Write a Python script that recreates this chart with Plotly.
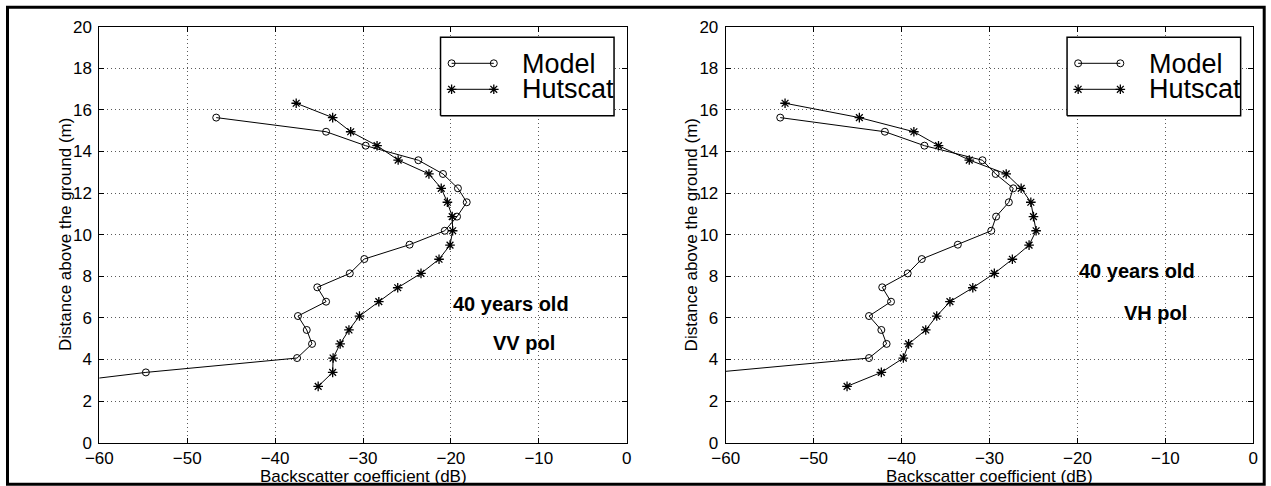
import plotly.graph_objects as go

# ---------------- data ----------------
hut_heights = [16.32, 15.63, 14.95, 14.28, 13.59, 12.92, 12.23, 11.56, 10.87, 10.19,
               9.50, 8.82, 8.14, 7.45, 6.78, 6.09, 5.42, 4.75, 4.07, 3.38, 2.71]
model_heights = [15.63, 14.95, 14.28, 13.58, 12.92, 12.23, 11.56, 10.87, 10.19, 9.52,
                 8.83, 8.14, 7.47, 6.78, 6.09, 5.42, 4.75, 4.07, 3.38, 2.70]

vv_model = [-46.7, -34.2, -29.7, -23.7, -20.9, -19.2, -18.2, -19.3, -20.7, -24.7,
            -29.85, -31.5, -35.2, -34.2, -37.4, -36.4, -35.8, -37.5, -54.7, -68.0]
vv_hut = [-37.6, -33.45, -31.4, -28.4, -26.0, -22.5, -21.1, -20.4, -19.85, -19.8,
          -20.1, -21.35, -23.4, -26.05, -28.2, -30.4, -31.6, -32.6, -33.4, -33.45, -35.1]

vh_model = [-53.8, -41.9, -37.4, -30.8, -29.3, -27.3, -27.8, -29.25, -29.8, -33.6,
            -37.7, -39.3, -42.2, -41.2, -43.7, -42.3, -41.7, -43.7, -61.3]
vh_hut = [-53.25, -44.8, -38.6, -35.8, -32.3, -28.1, -26.4, -25.3, -25.0, -24.7,
          -25.5, -27.4, -29.45, -31.9, -34.5, -36.0, -37.25, -39.2, -39.8, -42.3, -46.2]

x_ticks = [-60, -50, -40, -30, -20, -10, 0]
x_tick_labels = ["\u221260", "\u221250", "\u221240", "\u221230", "\u221220", "\u221210", "0"]
y_ticks = [0, 2, 4, 6, 8, 10, 12, 14, 16, 18, 20]
y_tick_labels = [str(v) for v in y_ticks]

series_names = ["Model", "Hutscat"]
panel_notes = [("40 years old", "VV pol"), ("40 years old", "VH pol")]
x_title = "Backscatter coefficient (dB)"
y_title = "Distance above the ground (m)"

# ---------------- styling ----------------
W, H = 1271, 486
FONT = "Liberation Sans, Arial, Helvetica, sans-serif"
BLACK = "#000000"
GRIDC = "#5a5a5a"
SYMBOLS = {"Model": ("circle-open", 7, 1), "Hutscat": ("asterisk-open", 8, 1.3)}

def px_x(p):
    return p / W

def px_y(p):
    return 1 - p / H

left_dom = [px_x(99.3), px_x(626.7)]
right_dom = [px_x(725.7), px_x(1253.3)]
y_dom = [px_y(442.7), px_y(26.7)]

fig = go.Figure()

def add_series(xs, ys, xa, ya, name):
    sym, size, lw = SYMBOLS[name]
    fig.add_trace(go.Scatter(
        x=xs, y=ys, mode="lines+markers", name=name, showlegend=False,
        xaxis=xa, yaxis=ya,
        line=dict(color=BLACK, width=1),
        marker=dict(symbol=sym, size=size, color=BLACK, line=dict(color=BLACK, width=lw)),
    ))

add_series(vv_model, model_heights[:len(vv_model)], "x", "y", "Model")
add_series(vv_hut, hut_heights, "x", "y", "Hutscat")
add_series(vh_model, model_heights[:len(vh_model)], "x2", "y2", "Model")
add_series(vh_hut, hut_heights, "x2", "y2", "Hutscat")

# legend box + samples on overlay axes (domain fractions)
box_x = [0.647, 0.976, 0.976, 0.647, 0.647]
box_y = [0.786, 0.786, 0.9745, 0.9745, 0.786]
leg_x = [0.668, 0.748]
leg_rows = [0.912, 0.8495]
for xa, ya in (("x3", "y3"), ("x4", "y4")):
    fig.add_trace(go.Scatter(
        x=box_x, y=box_y, mode="lines", fill="toself", fillcolor="white",
        line=dict(color=BLACK, width=1.5), showlegend=False, hoverinfo="skip",
        xaxis=xa, yaxis=ya, cliponaxis=False,
    ))
    for yy, nm in zip(leg_rows, series_names):
        sym, size, lw = SYMBOLS[nm]
        fig.add_trace(go.Scatter(
            x=leg_x, y=[yy, yy], mode="lines+markers", showlegend=False,
            xaxis=xa, yaxis=ya, cliponaxis=False, hoverinfo="skip",
            line=dict(color=BLACK, width=1),
            marker=dict(symbol=sym, size=size, color=BLACK, line=dict(color=BLACK, width=lw)),
        ))

axis_common = dict(
    range=[-60, 0], tickmode="array", tickvals=x_ticks, ticktext=x_tick_labels,
    showgrid=True, gridcolor=GRIDC, gridwidth=1, griddash="1px,3px",
    zeroline=False, showline=True, linecolor=BLACK, linewidth=1, mirror="ticks",
    ticks="inside", ticklen=5, tickwidth=1, tickcolor=BLACK,
    tickfont=dict(family=FONT, size=17, color=BLACK), automargin=False,
    ticklabelstandoff=0,
)
yaxis_common = dict(
    range=[0, 20], tickmode="array", tickvals=y_ticks, ticktext=y_tick_labels,
    showgrid=True, gridcolor=GRIDC, gridwidth=1, griddash="1px,3px",
    zeroline=False, showline=True, linecolor=BLACK, linewidth=1, mirror="ticks",
    ticks="inside", ticklen=5, tickwidth=1, tickcolor=BLACK,
    tickfont=dict(family=FONT, size=17, color=BLACK), automargin=False,
    ticklabelstandoff=3, domain=y_dom,
)
hidden = dict(range=[0, 1], visible=False, showgrid=False, zeroline=False, fixedrange=True)

fig.update_layout(
    width=W, height=H, margin=dict(l=0, r=0, t=0, b=0),
    paper_bgcolor="white", plot_bgcolor="white", showlegend=False,
    font=dict(family=FONT, color=BLACK),
    xaxis=dict(domain=left_dom, anchor="y", **axis_common),
    yaxis=dict(anchor="x", **yaxis_common),
    xaxis2=dict(domain=right_dom, anchor="y2", **axis_common),
    yaxis2=dict(anchor="x2", **yaxis_common),
    xaxis3=dict(overlaying="x", anchor="y3", **hidden),
    yaxis3=dict(overlaying="y", anchor="x3", **hidden),
    xaxis4=dict(overlaying="x2", anchor="y4", **hidden),
    yaxis4=dict(overlaying="y2", anchor="x4", **hidden),
)

shapes = []
annotations = []
for xref, yref in (("x", "y"), ("x2", "y2")):
    for nm, yy in zip(series_names, [0.911, 0.850]):
        annotations.append(dict(text=nm, xref=f"{xref} domain", yref=f"{yref} domain",
                                x=0.7977, y=yy, xanchor="left", yanchor="middle",
                                showarrow=False, font=dict(family=FONT, size=27, color=BLACK)))

# panel notes
note_pos = [((-20.0, 6.67), (-15.4, 4.81)), ((-20.0, 8.27), (-14.9, 6.25))]
for (xref, yref), notes, poss in zip((("x", "y"), ("x2", "y2")), panel_notes, note_pos):
    for txt, (nx, ny) in zip(notes, poss):
        annotations.append(dict(text=f"<b>{txt}</b>", xref=xref, yref=yref, x=nx, y=ny,
                                xanchor="left", yanchor="middle", showarrow=False,
                                font=dict(family=FONT, size=20, color=BLACK)))

# axis titles
for cx in (363.0, 989.5):
    annotations.append(dict(text=x_title, xref="paper", yref="paper", x=px_x(cx), y=px_y(476.7),
                            xanchor="center", yanchor="middle", showarrow=False,
                            font=dict(family=FONT, size=17, color=BLACK)))
for cx in (65.3, 691.7):
    annotations.append(dict(text=y_title, xref="paper", yref="paper", x=px_x(cx), y=px_y(234.7),
                            xanchor="center", yanchor="middle", showarrow=False, textangle=-90,
                            font=dict(family=FONT, size=17, color=BLACK)))

# outer frame
shapes.append(dict(type="rect", xref="paper", yref="paper",
                   x0=px_x(7.5), x1=px_x(1264.2), y0=px_y(484.3), y1=px_y(7.2),
                   line=dict(color=BLACK, width=3), fillcolor="rgba(0,0,0,0)", layer="above"))

fig.update_layout(shapes=shapes, annotations=annotations)
fig.write_html("out.html")
